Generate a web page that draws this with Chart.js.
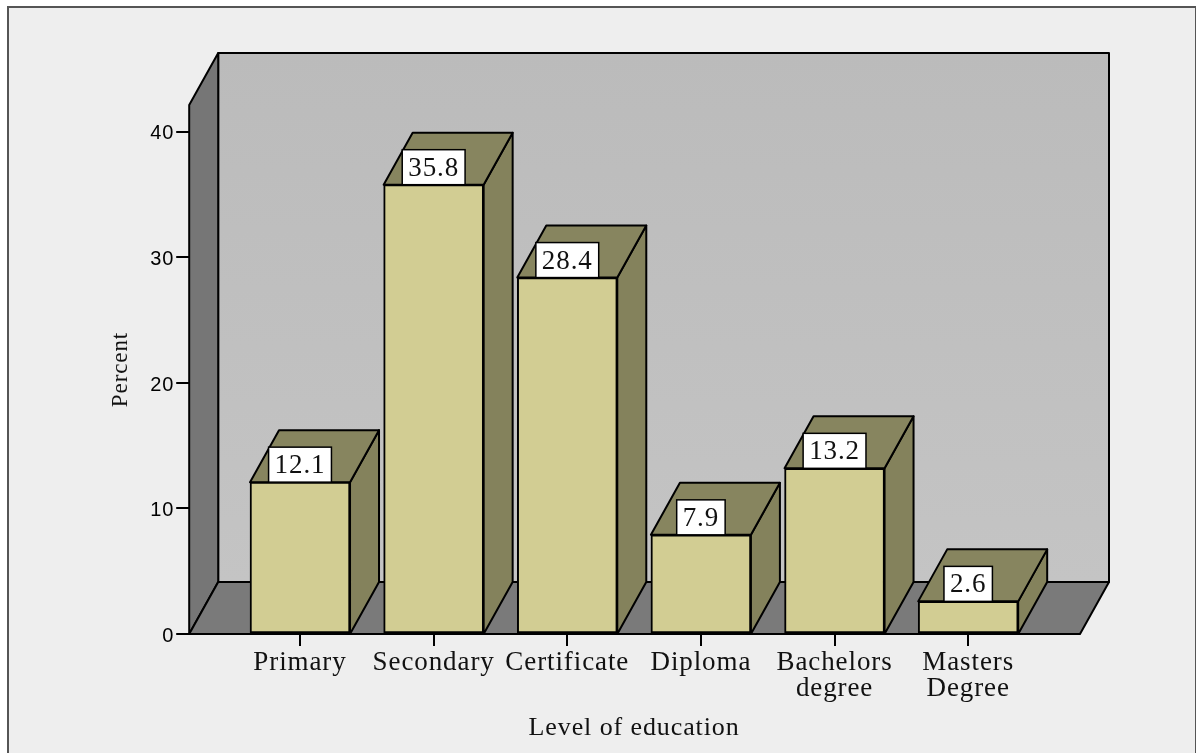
<!DOCTYPE html>
<html>
<head>
<meta charset="utf-8">
<title>Level of education</title>
<script src="https://cdn.jsdelivr.net/npm/chart.js@4/dist/chart.umd.min.js"></script>
<style>
  html, body { margin: 0; padding: 0; background: #fff; overflow: hidden; }
  #frame { position: absolute; left: 7px; top: 6px; width: 1189px; height: 747px;
           border: solid #555; border-width: 2px 1px 0 2px; background: #eeeeee; box-sizing: border-box; }
  canvas { position: absolute; left: 0; top: 0; }
</style>
</head>
<body>
<div id="frame"></div>
<canvas id="chart" width="1196" height="753"></canvas>
<script>
const categories = ["Primary", "Secondary", "Certificate", "Diploma", ["Bachelors", "degree"], ["Masters", "Degree"]];
const percents = [12.1, 35.8, 28.4, 7.9, 13.2, 2.6];
const yTicks = [0, 10, 20, 30, 40];

const SERIF = "'Liberation Serif', 'Times New Roman', serif";
const DX = 29, DY = -52;      // depth of the 3d box
const WALL_LEFT = 44, WALL_RIGHT = 45;  // floor overhang past the category band

function poly(ctx, pts, fill) {
  ctx.beginPath();
  pts.forEach((p, i) => i ? ctx.lineTo(p[0], p[1]) : ctx.moveTo(p[0], p[1]));
  ctx.closePath();
  ctx.fillStyle = fill;
  ctx.fill();
  ctx.stroke();
}

const box3d = {
  id: "box3d",
  beforeDraw(chart) {
    // the reference text is a little wider than the installed serif
    chart.ctx.letterSpacing = "0.9px";
  },
  beforeDatasetsDraw(chart) {
    const { ctx, chartArea: a } = chart;
    const l = a.left - WALL_LEFT, r = a.right + WALL_RIGHT, t = a.top, b = a.bottom;
    ctx.save();
    ctx.lineWidth = 2;
    ctx.strokeStyle = "#000";
    ctx.lineJoin = "round";

    const wall = ctx.createLinearGradient(0, t + DY, 0, b + DY);
    wall.addColorStop(0, "#bbbbbb");
    wall.addColorStop(1, "#c4c4c4");
    poly(ctx, [[l + DX, t + DY], [r + DX, t + DY], [r + DX, b + DY], [l + DX, b + DY]], wall);
    poly(ctx, [[l, t], [l + DX, t + DY], [l + DX, b + DY], [l, b]], "#767676");
    poly(ctx, [[l, b], [l + DX, b + DY], [r + DX, b + DY], [r, b]], "#7a7a7a");

    // sides and tops of the bars, placed from the bar elements
    chart.getDatasetMeta(0).data.forEach(bar => {
      const x0 = bar.x - bar.width / 2, x1 = bar.x + bar.width / 2;
      poly(ctx, [[x1, bar.y], [x1 + DX, bar.y + DY], [x1 + DX, b + DY], [x1, b]], "#84825c");
      poly(ctx, [[x0, bar.y], [x0 + DX, bar.y + DY], [x1 + DX, bar.y + DY], [x1, bar.y]], "#87855f");
    });
    ctx.restore();
  },
  afterDatasetsDraw(chart) {
    const { ctx } = chart;
    ctx.save();
    ctx.font = "27px " + SERIF;
    ctx.textAlign = "center";
    ctx.textBaseline = "middle";
    chart.getDatasetMeta(0).data.forEach((bar, i) => {
      const text = percents[i].toFixed(1);
      const w = ctx.measureText(text).width + 12;
      ctx.fillStyle = "#fff";
      ctx.strokeStyle = "#000";
      ctx.lineWidth = 1.5;
      ctx.fillRect(bar.x - w / 2, bar.y - 35, w, 35);
      ctx.strokeRect(bar.x - w / 2, bar.y - 35, w, 35);
      ctx.fillStyle = "#111";
      ctx.fillText(text, bar.x, bar.y - 16);
    });
    ctx.restore();
  }
};

new Chart(document.getElementById("chart"), {
  type: "bar",
  plugins: [box3d],
  data: {
    labels: categories,
    datasets: [{
      data: percents,
      backgroundColor: "#d2cd93",
      borderColor: "#000",
      borderWidth: 2,
      barThickness: 100,
      borderSkipped: false
    }]
  },
  options: {
    responsive: false,
    animation: false,
    devicePixelRatio: 1,
    layout: { padding: { left: 107, right: 161, top: 105, bottom: 9 } },
    plugins: { legend: { display: false }, tooltip: { enabled: false } },
    scales: {
      x: {
        grid: { drawOnChartArea: false, offset: false, color: "#000", lineWidth: 2, tickLength: 12 },
        border: { display: false },
        ticks: { color: "#111", font: { family: SERIF, size: 27, lineHeight: 0.96 }, padding: 4, maxRotation: 0, autoSkip: false },
        title: { display: true, text: "Level of education", color: "#111",
                 font: { family: SERIF, size: 26 }, padding: { top: 8, bottom: 0 } },
        afterFit(s) { s.height = 110; }
      },
      y: {
        min: 0,
        max: 42.15,
        afterBuildTicks(s) { s.ticks = yTicks.map(v => ({ value: v })); },
        grid: { drawOnChartArea: false, color: "#000", lineWidth: 2, tickLength: 57 },
        border: { display: false },
        ticks: { color: "#000", font: { family: "'Liberation Sans', Arial, sans-serif", size: 20 }, padding: 2, labelOffset: 2 },
        title: { display: true, text: "Percent", color: "#111",
                 font: { family: SERIF, size: 23 }, padding: 0 },
        afterFit(s) { s.width = 126.2; }
      }
    }
  }
});
</script>
</body>
</html>
